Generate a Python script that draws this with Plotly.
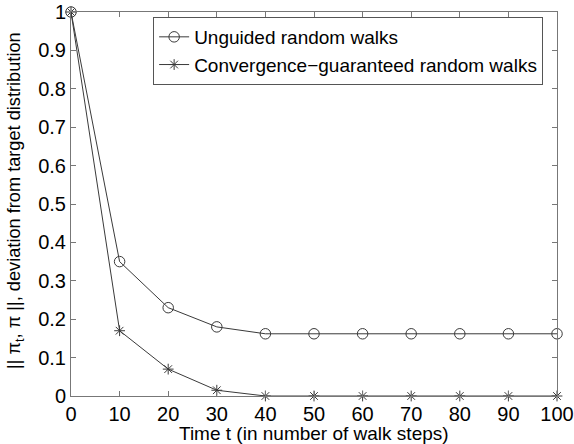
import plotly.graph_objects as go

# Walk length (steps) and distance from the target distribution
steps = [0, 10, 20, 30, 40, 50, 60, 70, 80, 90, 100]
unguided = [1.0, 0.35, 0.23, 0.18, 0.162, 0.162, 0.162, 0.162, 0.162, 0.162, 0.162]
guaranteed = [1.0, 0.17, 0.07, 0.015, 0.0, 0.0, 0.0, 0.0, 0.0, 0.0, 0.0]

x_ticks = list(range(0, 101, 10))
y_ticks = [0, 0.1, 0.2, 0.3, 0.4, 0.5, 0.6, 0.7, 0.8, 0.9, 1]
y_labels = ["0", "0.1", "0.2", "0.3", "0.4", "0.5", "0.6", "0.7", "0.8", "0.9", "1"]

x_title = "Time t (in number of walk steps)"
y_title = "|| \u03c0<sub>t</sub>, \u03c0 ||, deviation from target distribution"

line_col = "#3a3a3a"
font_family = "Liberation Sans, Arial, sans-serif"

fig = go.Figure()
fig.add_trace(go.Scatter(
    x=steps, y=unguided, mode="lines+markers",
    name="Unguided random walks",
    line=dict(color=line_col, width=1),
    marker=dict(symbol="circle-open", size=10.5, color=line_col, line=dict(width=1)),
    cliponaxis=False,
))
fig.add_trace(go.Scatter(
    x=steps, y=guaranteed, mode="lines+markers",
    name="Convergence\u2212guaranteed random walks",
    line=dict(color=line_col, width=1),
    marker=dict(symbol="asterisk-open", size=9, color=line_col, line=dict(width=1, color=line_col)),
    cliponaxis=False,
))

axis_common = dict(
    showgrid=False, zeroline=False, showline=True, linecolor="#777777", linewidth=1,
    mirror="ticks", ticks="inside", ticklen=5, tickcolor="#777777",
    tickfont=dict(size=20, color="black", family=font_family),
    automargin=False,
)

fig.update_layout(
    width=574, height=444,
    margin=dict(l=71, r=17, t=12, b=48),
    paper_bgcolor="white", plot_bgcolor="white",
    font=dict(family=font_family, color="black"),
    showlegend=True,
    legend=dict(
        x=0.169, y=0.987, xanchor="left", yanchor="top",
        bordercolor="#555555", borderwidth=1, bgcolor="white",
        font=dict(size=19, color="black", family=font_family),
        tracegroupgap=0, itemwidth=30,
    ),
    xaxis=dict(range=[0, 100], tickvals=x_ticks, ticklabelstandoff=0, **axis_common),
    yaxis=dict(range=[0, 1], tickvals=y_ticks, ticktext=y_labels, ticklabelstandoff=0,
               **axis_common),
)

# Axis titles as annotations for precise placement
fig.add_annotation(
    text=x_title, showarrow=False,
    xref="paper", yref="paper", x=0.5, y=-0.0964,
    xanchor="center", yanchor="middle",
    font=dict(size=19, color="black", family=font_family),
)
fig.add_annotation(
    text=y_title, textangle=-90, showarrow=False,
    xref="paper", yref="paper", x=-0.113, y=0.508,
    xanchor="center", yanchor="middle",
    font=dict(size=18.2, color="black", family=font_family),
)

fig.write_html("out.html")
